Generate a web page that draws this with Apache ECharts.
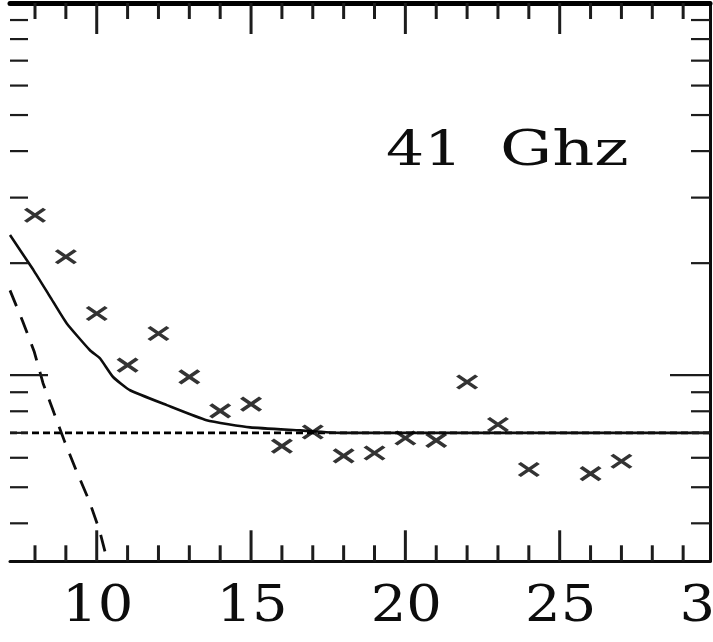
<!DOCTYPE html>
<html>
<head>
<meta charset="utf-8">
<title>41 Ghz</title>
<script src="https://cdn.jsdelivr.net/npm/echarts@6/dist/echarts.min.js"></script>
<style>
  html, body { margin: 0; padding: 0; background: #fff; }
  #chart { width: 713px; height: 642px; }
</style>
</head>
<body>
<div id="chart"></div>
<script>
// Axis extents (x linear, y logarithmic)
const X_MIN = 7.19;
const X_MAX = 29.87;
const Y_MIN = 0.31623;
const Y_MAX = 10;

// Measured points (crosses)
const obsX = [8, 9, 10, 11, 12, 13, 14, 15, 16, 17, 18, 19, 20, 21, 22, 23, 24, 26, 27];
const obsY = [2.69, 2.08, 1.465, 1.064, 1.294, 0.99, 0.802, 0.836, 0.645, 0.704, 0.607, 0.618, 0.678, 0.668, 0.959, 0.737, 0.558, 0.544, 0.587];

// Total model (solid curve)
const modelX = [7.19, 7.95, 8.49, 9.03, 9.78, 10.11, 10.53, 11.08, 12.27, 13.56, 14.97, 16.59, 17.9, 29.87];
const modelY = [2.38, 1.916, 1.624, 1.377, 1.167, 1.109, 0.989, 0.911, 0.831, 0.757, 0.724, 0.711, 0.70, 0.70];

// Steep component (long dashes)
const steepX = [7.19, 7.60, 7.97, 8.26, 8.62, 8.97, 9.33, 9.75, 10.09, 10.30, 10.36];
const steepY = [1.69, 1.397, 1.16, 0.952, 0.79, 0.66, 0.556, 0.461, 0.383, 0.328, 0.316];

// Constant level (short dashes)
const levelY = 0.70;

// Tick positions and labels
const xTickValues = [8, 9, 10, 11, 12, 13, 14, 15, 16, 17, 18, 19, 20, 21, 22, 23, 24, 25, 26, 27, 28, 29];
const xMajorTicks = [10, 15, 20, 25];
const xLabelValues = [10, 15, 20, 25, 30];
const yTickValues = [0.4, 0.5, 0.6, 0.7, 0.8, 0.9, 1, 2, 3, 4, 5, 6, 7, 8, 9];
const yMajorTicks = [1];

const titleText = '41 Ghz';

const INK = '#0d0d0d';
const SERIF = '"DejaVu Serif", "Liberation Serif", serif';

const zip = (a, b) => a.map((v, i) => [v, b[i]]);

const chart = echarts.init(document.getElementById('chart'), null, { renderer: 'canvas' });

function renderXTick(params, api) {
  const cs = params.coordSys;
  const v = api.value(0);
  const px = api.coord([v, 1])[0];
  const len = xMajorTicks.includes(v) ? 31 : 16;
  const bottom = cs.y + cs.height;
  const top = cs.y;
  const st = { stroke: '#1c1c1c', lineWidth: 3 };
  return {
    type: 'group',
    children: [
      { type: 'line', shape: { x1: px, y1: bottom, x2: px, y2: bottom - len }, style: st },
      { type: 'line', shape: { x1: px, y1: top, x2: px, y2: top + len }, style: st }
    ]
  };
}

function renderYTick(params, api) {
  const cs = params.coordSys;
  const v = api.value(1);
  const py = api.coord([X_MIN, v])[1];
  const major = yMajorTicks.includes(v);
  const lenL = major ? 38 : 18;
  const lenR = major ? 40 : 19;
  const left = cs.x;
  const right = cs.x + cs.width;
  const st = { stroke: '#1c1c1c', lineWidth: 2.2 };
  return {
    type: 'group',
    children: [
      { type: 'line', shape: { x1: left, y1: py, x2: left + lenL, y2: py }, style: st },
      { type: 'line', shape: { x1: right, y1: py, x2: right - lenR, y2: py }, style: st }
    ]
  };
}

function renderXLabel(params, api) {
  const cs = params.coordSys;
  const v = api.value(0);
  const px = api.coord([v, 1])[0];
  return {
    type: 'text',
    x: px + 1,
    y: cs.y + cs.height + 47,
    scaleX: 1.12,
    style: {
      text: String(v),
      font: '50px ' + SERIF,
      fill: INK,
      textAlign: 'center',
      textVerticalAlign: 'middle'
    }
  };
}

// Title drawn word by word so the wide word spacing can be kept
const titleWords = titleText.split(' ');
const titleLayout = [
  { x: 386, scaleX: 1.25 },
  { x: 500, scaleX: 1.36 }
];

const option = {
  animation: false,
  backgroundColor: '#fff',
  grid: { left: 10, right: 3, top: 3, bottom: 80.7, containLabel: false },
  xAxis: [
    {
      type: 'value', min: X_MIN, max: X_MAX, position: 'bottom',
      axisLine: { show: true, onZero: false, lineStyle: { color: INK, width: 3 } },
      axisTick: { show: false }, axisLabel: { show: false }, splitLine: { show: false }
    },
    {
      type: 'value', min: X_MIN, max: X_MAX, position: 'top',
      axisLine: { show: true, onZero: false, lineStyle: { color: '#000', width: 5 } },
      axisTick: { show: false }, axisLabel: { show: false }, splitLine: { show: false }
    }
  ],
  yAxis: [
    {
      type: 'log', logBase: 10, min: Y_MIN, max: Y_MAX, position: 'left',
      axisLine: { show: false }, axisTick: { show: false },
      axisLabel: { show: false }, splitLine: { show: false }
    },
    {
      type: 'log', logBase: 10, min: Y_MIN, max: Y_MAX, position: 'right',
      axisLine: { show: true, onZero: false, lineStyle: { color: INK, width: 3 } },
      axisTick: { show: false }, axisLabel: { show: false }, splitLine: { show: false }
    }
  ],
  graphic: titleWords.map((w, i) => ({
    type: 'text',
    x: titleLayout[i].x,
    y: 153,
    scaleX: titleLayout[i].scaleX,
    style: {
      text: w,
      font: '48px ' + SERIF,
      fill: INK,
      textAlign: 'left',
      textVerticalAlign: 'middle'
    }
  })),
  series: [
    {
      name: 'xticks', type: 'custom', renderItem: renderXTick, silent: true,
      data: xTickValues.map(v => [v, 1]), encode: { x: 0, y: 1 }, z: 5
    },
    {
      name: 'yticks', type: 'custom', renderItem: renderYTick, silent: true,
      data: yTickValues.map(v => [X_MIN, v]), encode: { x: 0, y: 1 }, z: 5
    },
    {
      name: 'xlabels', type: 'custom', renderItem: renderXLabel, silent: true,
      data: xLabelValues.map(v => [v, 1]), encode: { x: 0, y: 1 }, z: 5
    },
    {
      name: 'level', type: 'line', showSymbol: false, silent: true,
      data: [[X_MIN, levelY], [X_MAX, levelY]],
      lineStyle: { color: '#000', width: 2.8, type: [7, 4] }, z: 3
    },
    {
      name: 'steep', type: 'line', showSymbol: false, silent: true,
      data: zip(steepX, steepY),
      lineStyle: { color: INK, width: 2.8, type: [17, 12] }, z: 3
    },
    {
      name: 'model', type: 'line', showSymbol: false, silent: true, smooth: 0.15,
      data: zip(modelX, modelY),
      lineStyle: { color: INK, width: 2.6 }, z: 3
    },
    {
      name: 'obs', type: 'scatter', silent: true,
      symbol: 'path://M0,0L10,10M10,0L0,10',
      symbolSize: [19, 13],
      data: zip(obsX, obsY),
      itemStyle: { color: 'rgba(0,0,0,0)', borderColor: '#000', borderWidth: 3.6 },
      z: 4
    }
  ]
};

chart.setOption(option);
</script>
</body>
</html>
